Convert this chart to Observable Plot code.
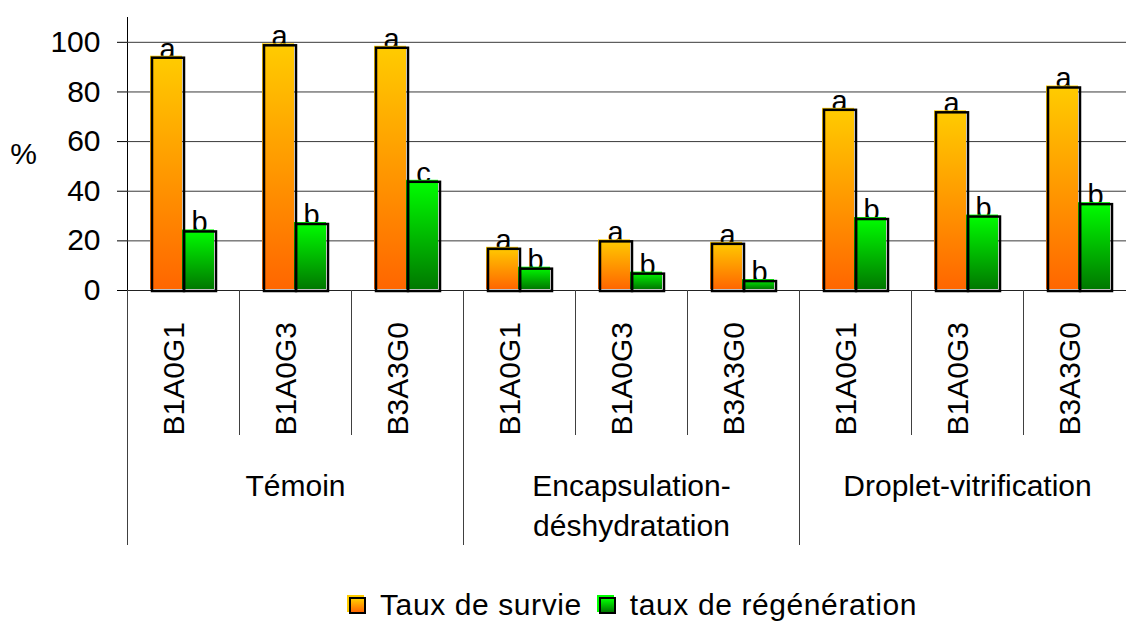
<!DOCTYPE html>
<html>
<head>
<meta charset="utf-8">
<script src="https://cdn.jsdelivr.net/npm/d3@7"></script>
<script src="https://cdn.jsdelivr.net/npm/@observablehq/plot@0.6"></script>
<style>
  html, body { margin: 0; padding: 0; background: #fff; overflow: hidden; }
  body { font-family: "Liberation Sans", Arial, sans-serif; width: 1126px; height: 621px; }
  #legend { display: flex; align-items: center; height: 34px; margin-top: 28px; padding-left: 349px; font-size: 30px; color: #000; white-space: nowrap; letter-spacing: 0.6px; }
  .sw { display: inline-block; width: 13px; height: 13px; border: 2px solid #000; margin-right: 14px; }
  .sw.o { background: linear-gradient(#FFCC00, #FF6600); box-shadow: -2px -2px 0 #FFCC00; }
  .sw.g { background: linear-gradient(#00FF00, #007800); box-shadow: -2px -2px 0 #00FF00; margin-left: 17px; margin-right: 14px; }
</style>
</head>
<body>
<div id="chart"></div>
<div id="legend"></div>
<script>
// ---- Data ----
const groups = ["Témoin", "Encapsulation-\ndéshydratation", "Droplet-vitrification"];
const treatments = ["B1A0G1", "B1A0G3", "B3A3G0"];
const series = ["Taux de survie", "taux de régénération"];
const survie = [94, 99, 98, 17, 20, 19, 73, 72, 82];
const regeneration = [24, 27, 44, 9, 7, 4, 29, 30, 35];
const lettresSurvie = ["a", "a", "a", "a", "a", "a", "a", "a", "a"];
const lettresRegen = ["b", "b", "c", "b", "b", "b", "b", "b", "b"];
const yTicks = [0, 20, 40, 60, 80, 100];
const yLabel = "%";

// ---- Build tables ----
const cats = [];
groups.forEach((g, gi) => treatments.forEach((t, ti) => {
  cats.push({key: gi + "|" + t, group: g, gi, treatment: t, i: gi * treatments.length + ti});
}));
const keys = cats.map(c => c.key);
const rows = [];
cats.forEach(c => {
  rows.push({key: c.key, serie: series[0], value: survie[c.i], letter: lettresSurvie[c.i]});
  rows.push({key: c.key, serie: series[1], value: regeneration[c.i], letter: lettresRegen[c.i]});
});
const groupRows = groups.map((g, gi) => ({key: keys[gi * treatments.length + 1], label: g}));

const font = '"Liberation Sans", Arial, sans-serif';

const chart = Plot.plot({
  width: 1126,
  height: 560,
  marginTop: 17,
  marginBottom: 270,
  marginLeft: 127,
  marginRight: -9,
  style: {fontFamily: font, fontSize: "30px", color: "#000", background: "transparent", overflow: "visible"},
  fx: {domain: keys, paddingInner: 0, paddingOuter: 0, axis: null, label: null},
  x: {domain: series, paddingInner: 0, paddingOuter: 0.7, axis: null, label: null},
  y: {domain: [0, 110], ticks: yTicks, tickSize: 10, tickPadding: 17, label: null, line: true},
  color: {domain: series, range: ["url(#gradOrange)", "url(#gradGreen)"]},
  marks: [
    Plot.ruleY(yTicks.slice(1), {stroke: "#3a3a3a", strokeWidth: 1}),
    Plot.ruleY([0], {stroke: "#222", strokeWidth: 1}),
    Plot.text(rows, {fx: "key", x: "serie", y: "value", text: "letter", lineAnchor: "bottom", dy: 1.5, fontSize: 29}),
    Plot.barY(rows, {fx: "key", x: "serie", y: "value", fill: "serie", dx: -1, dy: -1}),
    Plot.barY(rows, {fx: "key", x: "serie", y: "value", fill: "none", stroke: "#000", strokeWidth: 2.5, dx: 1, dy: 1}),
    Plot.text(cats, {fx: "key", text: "treatment", frameAnchor: "bottom", rotate: -90, textAnchor: "start", dy: 145, fontSize: 30}),
    Plot.text(groupRows, {fx: "key", text: "label", frameAnchor: "bottom", lineAnchor: "top", lineHeight: 1.333, dy: 177, fontSize: 30, style: "letter-spacing:0.5px"}),
    Plot.text([{key: keys[0], t: yLabel}], {fx: "key", text: "t", frameAnchor: "left", textAnchor: "middle", dx: -104, fontSize: 30})
  ]
});

// gradient definitions
const svgEl = chart.tagName.toLowerCase() === "svg" ? chart : chart.querySelector("svg");
const svg = d3.select(svgEl);
const defs = svg.insert("defs", ":first-child");
const gO = defs.append("linearGradient").attr("id", "gradOrange").attr("x1", 0).attr("y1", 0).attr("x2", 0).attr("y2", 1);
gO.append("stop").attr("offset", "0%").attr("stop-color", "#FFCC00");
gO.append("stop").attr("offset", "100%").attr("stop-color", "#FF6600");
const gG = defs.append("linearGradient").attr("id", "gradGreen").attr("x1", 0).attr("y1", 0).attr("x2", 0).attr("y2", 1);
gG.append("stop").attr("offset", "0%").attr("stop-color", "#00FF00");
gG.append("stop").attr("offset", "100%").attr("stop-color", "#007800");

// category separators below the axis, from the library's scales
const fx = chart.scale("fx");
const y = chart.scale("y");
const y0 = y.apply(0);
const bw = fx.bandwidth;
const sep = svg.append("g").attr("stroke", "#404040").attr("stroke-width", 1);
keys.forEach((k, i) => {
  const x = Math.round(fx.apply(k)) + 0.5;
  const long = i % treatments.length === 0;
  sep.append("line").attr("x1", x).attr("x2", x).attr("y1", y0).attr("y2", y0 + (long ? 255 : 145));
});
const xEnd = Math.round(fx.apply(keys[keys.length - 1]) + bw) + 0.5;
sep.append("line").attr("x1", xEnd).attr("x2", xEnd).attr("y1", y0).attr("y2", y0 + 255);

document.getElementById("chart").appendChild(chart);

// legend
const lg = document.getElementById("legend");
lg.innerHTML = '<span class="sw o"></span><span>' + series[0] + '</span><span class="sw g"></span><span>' + series[1] + '</span>';
</script>
</body>
</html>
